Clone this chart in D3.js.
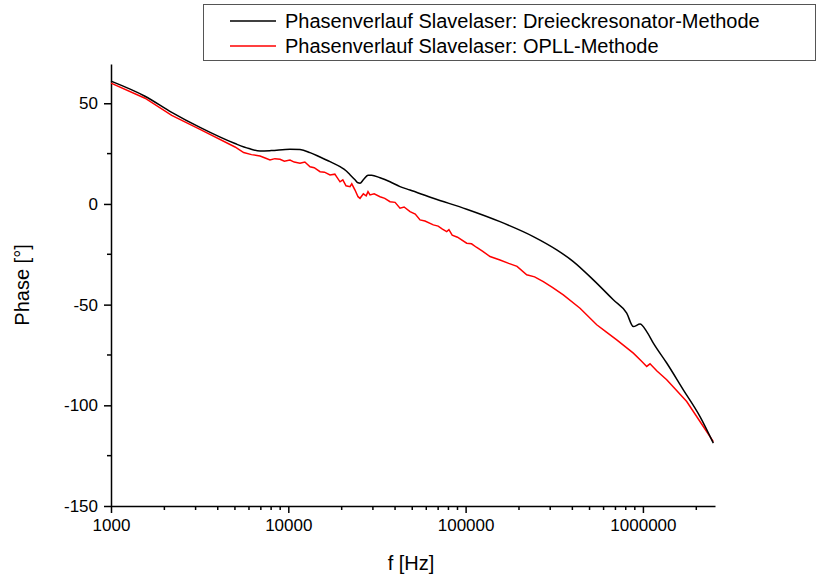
<!DOCTYPE html>
<html>
<head>
<meta charset="utf-8">
<script src="https://cdn.jsdelivr.net/npm/d3@7"></script>
<style>
  body { margin: 0; background: #fff; }
  text { font-family: "Liberation Sans", Arial, sans-serif; }
</style>
</head>
<body>
<div id="chart"></div>
<script>
// Dreieckresonator-Methode (black)
let freqBlack = [1000, 1555, 2200, 3177, 5005, 6000, 6925, 8000, 10220, 11640, 13260, 15100, 17190, 19570,
    21160, 22280, 23780, 24730, 25380, 26500, 28150, 29500, 32900, 37470, 42660, 48580, 65740, 101400,
    156300, 240900, 326500, 405000, 525100, 680800, 810200, 883000, 963100, 1050500, 1145000,
    1362000, 1690000, 2099000, 2495000]
let phaseBlack = [61, 53.5, 45.5, 38, 30, 27.5, 26.3, 26.5, 27.2, 27, 25.5, 23.3, 21, 18.5,
    16.5, 14.5, 12, 10.5, 10.3, 12, 14.2, 14.3, 13, 11, 8.6, 6.9, 2.8, -2.6,
    -8.8, -16.2, -22.8, -28.6, -37.7, -47.6, -54.2, -60.9, -59.6, -63.4, -69.1,
    -79, -92.3, -105.6, -118.8]

// OPLL-Methode (red)
let freqRed = [1000, 1555, 2200, 3177, 5005, 5600, 6200, 6925, 7400, 7885, 8400, 8980, 9500, 10220, 10800,
    11640, 12400, 13260, 14000, 15100, 16000, 17190, 18300, 19570, 20300, 21160, 22280, 22800, 23780,
    24730, 25380, 26500, 27500, 28150, 28890, 30500, 32900, 35000, 37470, 40000, 42660, 45000, 48580,
    52000, 55320, 59000, 65740, 70000, 74000, 78230, 80500, 84000, 90000, 101400, 108000, 115000,
    125000, 137300, 156300, 175000, 195000, 221100, 245000, 274300, 310000, 355600, 441900, 548800,
    620000, 711700, 883000, 980000, 1050500, 1096500, 1200000, 1362000, 1766000, 2191000, 2495000]
let phaseRed = [60, 52.5, 44, 37, 28.3, 25.5, 24.5, 23.8, 22.8, 21.8, 22.5, 22.2, 21.2, 21.8, 20.8,
    20.2, 20.8, 18.5, 18, 16, 15.8, 14.4, 14.8, 11, 12, 9, 8.6, 10, 6.9,
    3.6, 2.8, 5, 4, 6.1, 4.5, 5, 3.6, 2.8, 1.1, 0.8, -2.1, -1.5, -3.8,
    -5, -7.9, -8.5, -10.4, -11, -12.5, -13.7, -12.8, -15.5, -16.5, -19.5, -19.8, -21.5,
    -23.5, -26.1, -27.8, -29.5, -31, -35.2, -36.2, -38.6, -41.5, -45.2, -51.8, -60,
    -63.5, -67.5, -74.1, -78, -80.7, -79.4, -83, -87.3, -98.1, -110.5, -118]

let xTicks = [1000, 10000, 100000, 1000000]
let yTicks = [-150, -100, -50, 0, 50]
let legendNames = ['Phasenverlauf Slavelaser: Dreieckresonator-Methode', 'Phasenverlauf Slavelaser: OPLL-Methode']

let width = 818, height = 577
let svg = d3.select('#chart').append('svg')
    .attr('width', width)
    .attr('height', height)

let x = d3.scaleLog().domain([1000, 2550000]).range([111, 715])
let y = d3.scaleLinear().domain([-150, 69.5]).range([506, 64])

// minor ticks
let xMinor = []
for (let e = 3; e <= 6; e++) {
    for (let m = 2; m <= 9; m++) {
        let v = m * Math.pow(10, e)
        if (v <= 2550000) xMinor.push(v)
    }
}
let yMinor = d3.range(-125, 70, 50)

let xAxis = svg.append('g')
    .attr('transform', 'translate(0,506)')
    .call(d3.axisBottom(x).tickValues(xTicks).tickFormat(d => String(d)).tickSize(7).tickSizeOuter(0).tickPadding(6))
xAxis.append('g').selectAll('line')
    .data(xMinor)
    .enter().append('line')
    .attr('x1', d => x(d)).attr('x2', d => x(d))
    .attr('y1', 0).attr('y2', 4)
    .attr('stroke', '#000').attr('stroke-width', 1.5)

let yAxis = svg.append('g')
    .attr('transform', 'translate(111,0)')
    .call(d3.axisLeft(y).tickValues(yTicks).tickFormat(d => String(d)).tickSize(7).tickSizeOuter(0).tickPadding(6))
yAxis.append('g').selectAll('line')
    .data(yMinor)
    .enter().append('line')
    .attr('y1', d => y(d)).attr('y2', d => y(d))
    .attr('x1', 0).attr('x2', -4)
    .attr('stroke', '#000').attr('stroke-width', 1.5)

svg.selectAll('.domain').attr('stroke-width', 1.5)
svg.selectAll('.tick line').attr('stroke-width', 1.5)
svg.selectAll('.tick text').style('font-size', '17px').attr('fill', '#000')
svg.selectAll('.tick text').style('font-family', '"Liberation Sans", Arial, sans-serif')

let line = d3.line()
    .x(d => x(d[0]))
    .y(d => y(d[1]))

svg.append('path')
    .datum(freqRed.map((f, i) => [f, phaseRed[i]]))
    .attr('d', line)
    .attr('fill', 'none')
    .attr('stroke', '#ff0000')
    .attr('stroke-width', 1.5)

svg.append('path')
    .datum(freqBlack.map((f, i) => [f, phaseBlack[i]]))
    .attr('d', line.curve(d3.curveMonotoneX))
    .attr('fill', 'none')
    .attr('stroke', '#000')
    .attr('stroke-width', 1.5)

// axis titles
svg.append('text')
    .attr('x', 411).attr('y', 570)
    .attr('text-anchor', 'middle')
    .style('font-size', '20px')
    .text('f [Hz]')

svg.append('text')
    .attr('transform', 'translate(29,285) rotate(-90)')
    .attr('text-anchor', 'middle')
    .style('font-size', '20px')
    .text('Phase [°]')

// legend
let legend = svg.append('g')
legend.append('rect')
    .attr('x', 203.5).attr('y', 4.5)
    .attr('width', 612).attr('height', 56)
    .attr('fill', '#fff')
    .attr('stroke', '#555')
    .attr('stroke-width', 1)
let legendColors = ['#000', '#ff0000']
legendNames.forEach(function (name, i) {
    legend.append('line')
        .attr('x1', 230).attr('x2', 276)
        .attr('y1', 21 + i * 25).attr('y2', 21 + i * 25)
        .attr('stroke', legendColors[i])
        .attr('stroke-width', 1.5)
    legend.append('text')
        .attr('x', 285).attr('y', 28 + i * 25)
        .style('font-size', '20px')
        .text(name)
})
</script>
</body>
</html>
